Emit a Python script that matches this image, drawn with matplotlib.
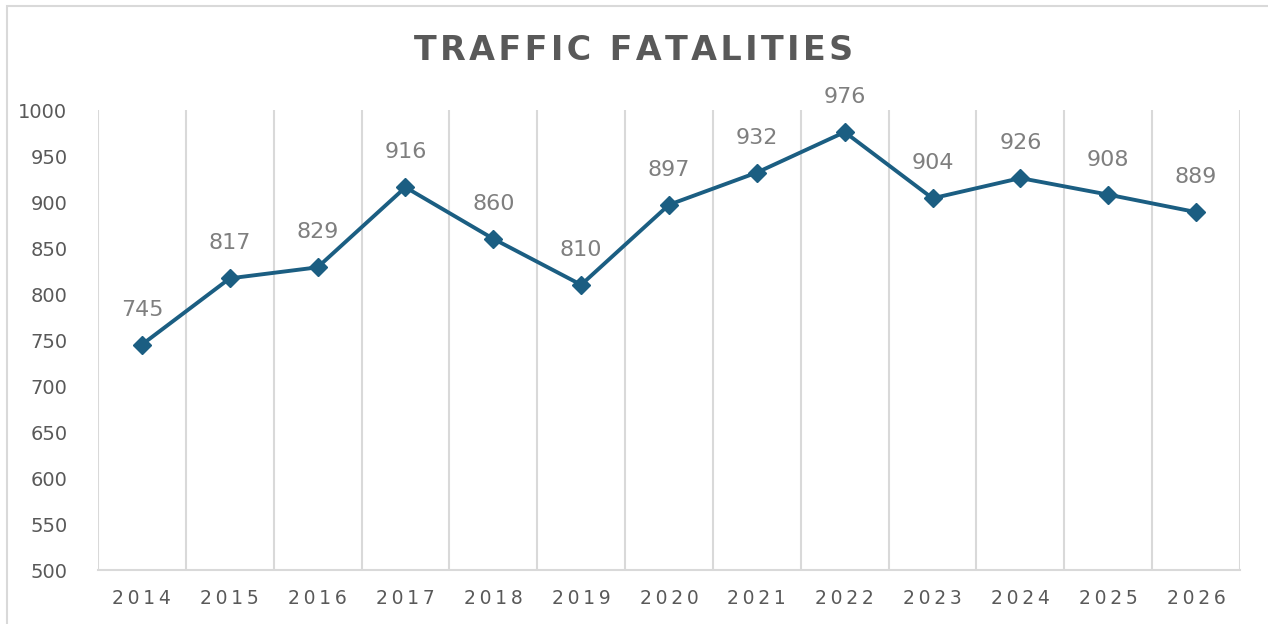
import matplotlib.pyplot as plt
from matplotlib.patches import Rectangle

# data
years = ["2014", "2015", "2016", "2017", "2018", "2019", "2020",
         "2021", "2022", "2023", "2024", "2025", "2026"]
fatalities = [745, 817, 829, 916, 860, 810, 897, 932, 976, 904, 926, 908, 889]
y_ticks = [500, 550, 600, 650, 700, 750, 800, 850, 900, 950, 1000]

line_color = "#1B5E82"
grid_color = "#D9D9D9"
text_color = "#595959"
label_color = "#7F7F7F"


def spaced(s, sep="\u2009"):
    return sep.join(s)


fig = plt.figure(figsize=(12.68, 6.24), dpi=100)
ax = fig.add_axes([98 / 1268, 1 - 570 / 624, 1142 / 1268, 460 / 624])

# outer chart border
fig.patches.append(Rectangle((7 / 1268, -0.05), 1.1, 1 - 6 / 624 + 0.05,
                             transform=fig.transFigure, fill=False,
                             edgecolor=grid_color, linewidth=1.5))

x = list(range(len(years)))
ax.plot(x, fatalities, color=line_color, linewidth=2.8, marker="D",
        markersize=9.5, zorder=3)

for xi, v in zip(x, fatalities):
    ax.annotate(str(v), (xi, v), xytext=(0, 18), textcoords="offset points",
                ha="center", va="bottom", fontsize=16, color=label_color)

# vertical gridlines at category boundaries
for b in [i - 0.5 for i in range(len(years) + 1)]:
    ax.axvline(b, color=grid_color, linewidth=1.5, zorder=1)

ax.set_xlim(-0.5, len(years) - 0.5)
ax.set_ylim(500, 1000)
ax.set_yticks(y_ticks)
ax.set_yticklabels([str(t) for t in y_ticks], fontsize=14, color=text_color)
ax.set_xticks(x)
ax.set_xticklabels([spaced(y, "\u2009") for y in years], fontsize=13.5,
                   color=text_color)

for side in ["top", "right", "left"]:
    ax.spines[side].set_visible(False)
ax.spines["bottom"].set_color(grid_color)
ax.spines["bottom"].set_linewidth(1.5)
ax.tick_params(axis="both", length=0)
ax.tick_params(axis="y", pad=22)
ax.tick_params(axis="x", pad=14)

fig.text(0.5, 1 - 50 / 624, spaced("TRAFFIC FATALITIES", "\u200a"),
         ha="center", va="center", fontsize=24, fontweight="bold",
         color=text_color)

fig.savefig("out.png", dpi=100)
